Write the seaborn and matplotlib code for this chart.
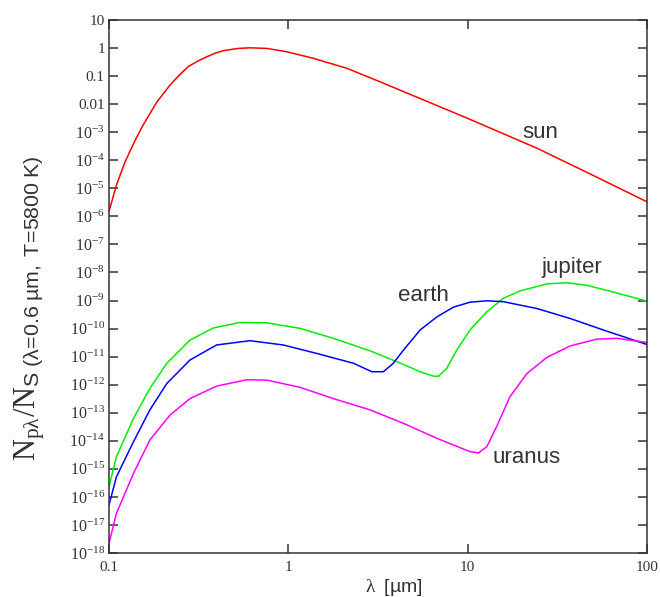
import numpy as np
import pandas as pd
import matplotlib
matplotlib.use('Agg')
import matplotlib.pyplot as plt
import seaborn as sns

# photon flux ratio (x in um)
sun_lam = [0.1, 0.110, 0.123, 0.140, 0.155, 0.185, 0.219, 0.246, 0.277, 0.312,
           0.351, 0.390, 0.435, 0.526, 0.611, 0.759, 0.98, 1.38, 2.12, 3.24,
           9.9, 24.3, 50.0, 100.0]
sun_val = [1.5e-6, 1.3e-5, 8.9e-5, 5.2e-4, 1.8e-3, 1.2e-2, 4.8e-2, 0.107, 0.22, 0.34,
           0.49, 0.65, 0.81, 0.97, 1.02, 0.97, 0.74, 0.43, 0.19, 0.063,
           3.2e-3, 2.7e-4, 2.9e-5, 3.3e-6]

jupiter_lam = [0.1, 0.110, 0.137, 0.169, 0.210, 0.283, 0.382, 0.538, 0.759, 1.16,
               1.78, 2.86, 4.03, 5.43, 6.44, 6.87, 7.64, 8.69, 10.3, 12.8,
               15.8, 19.6, 27.6, 35.7, 46.1, 65.0, 100.0]
jupiter_val = [2.3e-16, 2.7e-15, 6.3e-14, 7.4e-13, 5.8e-12, 3.9e-11, 1.05e-10, 1.66e-10, 1.6e-10, 1.02e-10,
               4.5e-11, 1.6e-11, 6.6e-12, 2.9e-12, 2.0e-12, 2.0e-12, 3.8e-12, 1.7e-11, 8.9e-11, 4.0e-10,
               1.2e-9, 2.2e-9, 3.9e-9, 4.3e-9, 3.5e-9, 2.0e-9, 9.5e-10]

earth_lam = [0.1, 0.110, 0.137, 0.169, 0.210, 0.283, 0.398, 0.611, 0.938, 1.44,
             2.31, 2.92, 3.39, 3.85, 4.38, 5.43, 6.73, 8.32, 10.3, 12.8,
             15.8, 24.3, 37.2, 57.1, 100.0]
earth_val = [5.1e-17, 5.2e-16, 9.3e-15, 1.26e-13, 1.1e-12, 7.6e-12, 2.6e-11, 3.7e-11, 2.6e-11, 1.3e-11,
             5.8e-12, 2.9e-12, 2.9e-12, 5.8e-12, 1.7e-11, 8.9e-11, 2.6e-10, 5.8e-10, 8.7e-10, 9.8e-10,
             9.1e-10, 5.2e-10, 2.3e-10, 8.9e-11, 2.7e-11]

uranus_lam = [0.1, 0.110, 0.137, 0.169, 0.219, 0.283, 0.398, 0.586, 0.759, 1.16,
              1.78, 2.86, 4.38, 6.73, 10.3, 11.5, 12.8, 14.5, 17.2, 21.4,
              27.6, 37.2, 52.5, 67.9, 100.0]
uranus_val = [2.2e-18, 2.6e-17, 6.9e-16, 1.07e-14, 8.3e-14, 3.2e-13, 8.9e-13, 1.5e-12, 1.45e-12, 8.1e-13,
              3.2e-13, 1.26e-13, 4.2e-14, 1.23e-14, 4.1e-15, 3.7e-15, 6.2e-15, 3.2e-14, 3.7e-13, 2.5e-12,
              9.3e-12, 2.4e-11, 4.2e-11, 4.5e-11, 3.2e-11]

bodies = ['sun', 'jupiter', 'earth', 'uranus']
colors = {'sun': '#ff0000', 'jupiter': '#00ee00', 'earth': '#0000ff', 'uranus': '#ff00ff'}

x_ticks = [0.1, 1, 10, 100]
x_ticklabels = ['0.1', '1', '10', '100']
y_ticks = [10.0 ** e for e in range(1, -19, -1)]
y_ticklabels = ['10', '1', '0.1', '0.01'] + [r'$\mathrm{10^{-%d}}$' % e for e in range(3, 19)]

sns.set_style('ticks')
plt.rcParams['mathtext.fontset'] = 'custom'
plt.rcParams['mathtext.rm'] = 'Liberation Serif'
plt.rcParams['mathtext.sf'] = 'Liberation Sans'
plt.rcParams['mathtext.it'] = 'Liberation Serif:italic'
plt.rcParams['font.family'] = ['Liberation Sans', 'DejaVu Sans']

frames = []
for name, lam, val in [('sun', sun_lam, sun_val), ('jupiter', jupiter_lam, jupiter_val),
                       ('earth', earth_lam, earth_val), ('uranus', uranus_lam, uranus_val)]:
    frames.append(pd.DataFrame({'wavelength': lam, 'ratio': val, 'body': name}))
df = pd.concat(frames, ignore_index=True)

fig = plt.figure(figsize=(6.6, 5.97), dpi=100)
ax = fig.add_axes([109 / 660, 1 - 553 / 597, 538 / 660, 533 / 597])

sns.lineplot(data=df, x='wavelength', y='ratio', hue='body', hue_order=bodies,
             palette=colors, estimator=None, sort=False, legend=False,
             linewidth=1.1, ax=ax)

ax.set_xscale('log')
ax.set_yscale('log')
ax.set_xlim(0.1, 100)
ax.set_ylim(1e-18, 10)
ax.set_xticks(x_ticks)
ax.set_xticklabels(x_ticklabels, fontfamily='Liberation Serif', fontsize=11, color='#333333')
ax.set_yticks(y_ticks)
ax.set_yticklabels(y_ticklabels, fontfamily='Liberation Serif', fontsize=11, color='#333333')
for t in ax.get_yticklabels()[4:]:
    t.set_fontsize(11.5)
ax.minorticks_off()
ax.tick_params(which='major', direction='in', length=6.5, width=1.1, color='#333333',
               top=True, right=True)
ax.tick_params(axis='x', pad=6)
ax.tick_params(axis='y', pad=3)
for sp in ax.spines.values():
    sp.set_visible(True)
    sp.set_linewidth(1.1)
    sp.set_color('#333333')
ax.set_xlabel('')
ax.set_ylabel('')

# curve names
lbl = dict(fontsize=16, color='#333333', ha='center', va='center')
ax.text(25.3, 1e-3, 'sun', **lbl)
ax.text(5.64, 1.45e-9, 'earth', **lbl)
ax.text(38.2, 1.45e-8, 'jupiter', **lbl)
ax.text(21.4, 2.5e-15, 'uranus', **lbl)

fig.text(394 / 660, 1 - 588 / 597, r'$\mathrm{λ}\ \ \mathsf{[µm]}$', fontsize=14,
         color='#333333', ha='center', va='center')
fig.text(30 / 660, 1 - 308 / 597,
         r'$\mathrm{N}_{\mathrm{pλ}}/\mathrm{N}_{\mathsf{S\ (λ\!=\!0.6\ µm,\ T\!=\!5800\ K)}}$',
         fontsize=22, color='#333333', rotation=90, ha='center', va='center')

fig.savefig('out.png', dpi=100, facecolor='white')
